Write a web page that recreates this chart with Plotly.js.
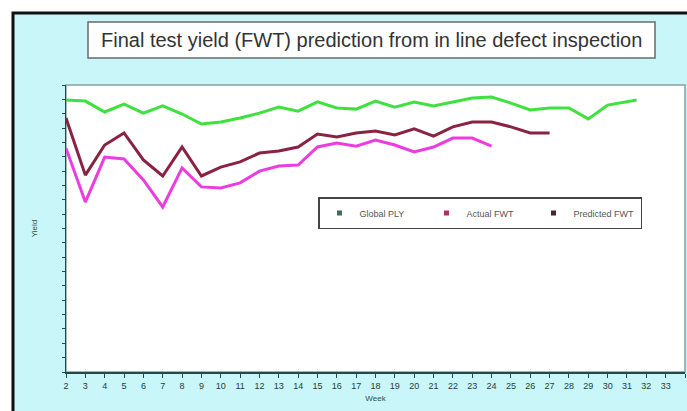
<!DOCTYPE html>
<html>
<head>
<meta charset="utf-8">
<script src="https://cdn.plot.ly/plotly-3.0.1.min.js"></script>
<style>
html,body{margin:0;padding:0;background:#ffffff;}
#chart{width:687px;height:411px;}
</style>
</head>
<body>
<div id="chart"></div>
<script>
// Data
var weeksGlobal = [2,3,4,5,6,7,8,9,10,11,12,13,14,15,16,17,18,19,20,21,22,23,24,25,26,27,28,29,30,31,31.5];
var globalPLY   = [94.8,94.4,90.6,93.3,90.2,92.7,89.9,86.4,87.1,88.5,90.2,92.3,90.9,94.1,92.0,91.6,94.4,92.3,94.1,92.7,94.1,95.5,95.8,93.7,91.3,92.0,92.0,88.2,93.0,94.1,94.8];

var weeksPred   = [2,3,4,5,6,7,8,9,10,11,12,13,14,15,16,17,18,19,20,21,22,23,24,25,26,27];
var predictedFWT= [88.5,68.6,79.1,83.3,73.9,68.3,78.4,68.3,71.4,73.2,76.3,77.0,78.4,82.9,81.9,83.3,84.0,82.6,84.7,82.2,85.4,87.1,87.1,85.4,83.3,83.3];

var weeksActual = [2,3,4,5,6,7,8,9,10,11,12,13,14,15,16,17,18,19,20,21,22,23,24];
var actualFWT   = [78.0,59.2,74.9,74.2,66.9,57.5,71.1,64.5,64.1,65.9,70.0,71.8,72.1,78.4,79.8,78.7,80.8,79.1,76.7,78.4,81.5,81.5,78.7];

var weekTicks = [];
for (var w = 2; w <= 34; w++) weekTicks.push(w);
var seriesNames = ['Global PLY', 'Actual FWT', 'Predicted FWT'];
var titleText = 'Final test yield (FWT) prediction from in line defect inspection';

var cGreen = '#3ee23e', cMag = '#ec3ce0', cMaroon = '#8a2242';
var legGreen = '#3f6f55', legMag = '#a8336c', legMaroon = '#4a2236';

var traces = [
  {x: weeksGlobal, y: globalPLY, mode:'lines', line:{color:cGreen, width:3}, showlegend:false, hoverinfo:'skip'},
  {x: weeksPred, y: predictedFWT, mode:'lines', line:{color:cMaroon, width:3}, showlegend:false, hoverinfo:'skip'},
  {x: weeksActual, y: actualFWT, mode:'lines', line:{color:cMag, width:3}, showlegend:false, hoverinfo:'skip'},
  {x:[null], y:[null], mode:'markers', name:seriesNames[0], marker:{symbol:'square', size:5, color:legGreen}},
  {x:[null], y:[null], mode:'markers', name:seriesNames[1], marker:{symbol:'square', size:5, color:legMag}},
  {x:[null], y:[null], mode:'markers', name:seriesNames[2], marker:{symbol:'square', size:5, color:legMaroon}}
];

var L = 66, R = 2, T = 85, B = 39, W = 687, H = 411;
var pw = W - L - R, ph = H - T - B;
function px(x){ return (x - L) / pw; }
function py(y){ return (H - B - y) / ph; }

var layout = {
  width: W, height: H,
  margin: {l:L, r:R, t:T, b:B, pad:0, autoexpand:false},
  paper_bgcolor: 'rgba(0,0,0,0)',
  plot_bgcolor: '#ffffff',
  font: {family:'Liberation Sans, Arial, sans-serif', color:'#333333'},
  showlegend: true,
  legend: {
    orientation:'h', x: px(318), y: py(197), xanchor:'left', yanchor:'top',
    bgcolor:'#ffffff', bordercolor:'#444444', borderwidth:1.5,
    font:{size:9, color:'#555555'}, entrywidth: 62, itemwidth: 30,
    tracegroupgap: 0
  },
  xaxis: {
    range:[2,34], tickmode:'array', tickvals: weekTicks, ticktext: weekTicks.map(String),
    showgrid:false, zeroline:false, showline:true, linecolor:'#204a4a', linewidth:2,
    ticks:'outside', ticklen:4, tickcolor:'#204a4a', tickfont:{size:9, color:'#2a3a3a'},
    mirror:false, automargin:false,
    title:{text:'Week', font:{size:8, color:'#3a4a4a'}, standoff:6}
  },
  yaxis: {
    range:[0,100], dtick:5, tick0:0, showticklabels:false, automargin:false,
    showgrid:false, zeroline:false, showline:true, linecolor:'#204a4a', linewidth:1.5,
    ticks:'outside', ticklen:3, tickcolor:'#204a4a',
    title:{text:'Yield', font:{size:8, color:'#3a4a4a'}, standoff:22}
  },
  shapes: [
    {type:'rect', xref:'paper', yref:'paper', x0:px(13), x1:px(700), y0:py(420), y1:py(13),
     fillcolor:'#c9f6f9', line:{color:'#111111', width:3}, layer:'below'},
    {type:'rect', xref:'paper', yref:'paper', x0:0, x1:1, y0:0, y1:1,
     fillcolor:'#ffffff', line:{color:'#8aa0a0', width:1.5}, layer:'below'},
    {type:'rect', xref:'paper', yref:'paper', x0:px(88), x1:px(655), y0:py(58), y1:py(22),
     fillcolor:'#ffffff', line:{color:'#6a6a6a', width:1.5}, layer:'below'}
  ],
  annotations: [
    {xref:'paper', yref:'paper', x:px(371), y:py(40), xanchor:'center', yanchor:'middle',
     text:titleText, showarrow:false, font:{size:20, color:'#333333'}}
  ]
};

Plotly.newPlot('chart', traces, layout, {displayModeBar:false, staticPlot:true});
</script>
</body>
</html>
